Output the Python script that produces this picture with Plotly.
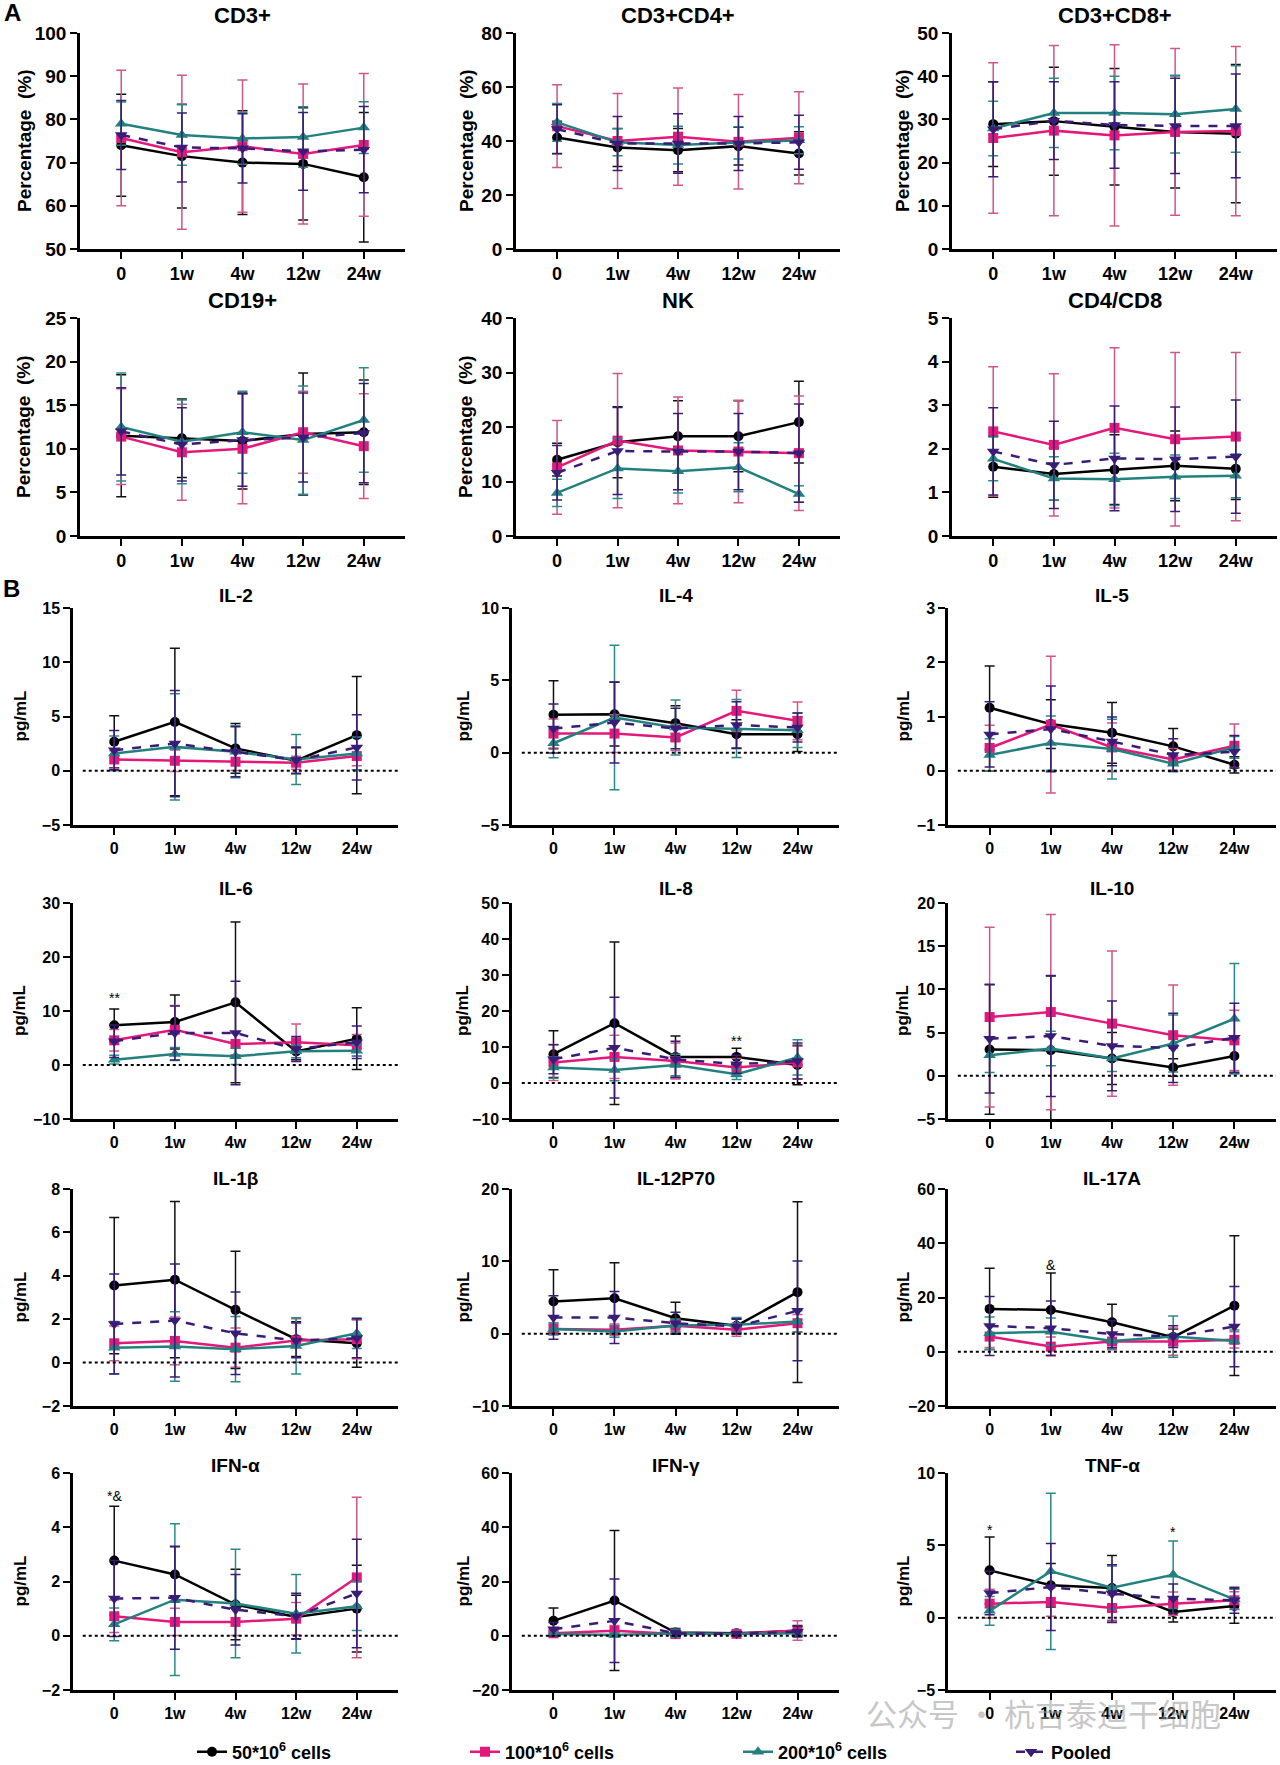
import plotly.graph_objects as go

# ---------------- data ----------------
times = ["0", "1w", "4w", "12w", "24w"]
series_names = ["50*10<sup>6</sup> cells", "100*10<sup>6</sup> cells",
                "200*10<sup>6</sup> cells", "Pooled"]

# order inside each panel list: [50, 100, 200, Pooled]
cd3_mean = [[74.0, 71.5, 70.0, 69.7, 66.6], [75.7, 72.4, 73.8, 72.0, 74.1],
            [79.0, 76.4, 75.6, 75.9, 78.1], [76.4, 73.5, 73.3, 72.6, 73.0]]
cd3_sd = [[11.8, 12.0, 12.0, 13.0, 15.0], [15.7, 17.8, 15.3, 16.2, 16.5],
          [5.0, 7.0, 6.0, 7.0, 6.0], [8.0, 8.0, 8.0, 9.0, 10.0]]

cd4_mean = [[41.3, 37.6, 36.6, 38.1, 35.4], [45.5, 40.0, 41.6, 39.7, 41.2],
            [46.9, 39.5, 38.5, 39.3, 40.3], [44.4, 39.1, 39.1, 39.1, 39.5]]
cd4_sd = [[6.0, 7.0, 8.0, 7.0, 8.0], [15.3, 17.6, 18.0, 17.5, 17.0],
          [7.0, 5.0, 7.0, 6.0, 5.0], [9.0, 10.0, 11.0, 10.0, 10.0]]

cd8_mean = [[28.9, 29.6, 28.3, 27.1, 26.7], [25.7, 27.4, 26.3, 27.1, 27.3],
            [27.9, 31.5, 31.5, 31.2, 32.4], [27.7, 29.7, 28.7, 28.5, 28.5]]
cd8_sd = [[9.8, 12.5, 13.5, 13.0, 16.0], [17.4, 19.7, 21.0, 19.3, 19.6],
          [6.3, 8.0, 8.5, 9.0, 10.0], [11.0, 9.0, 10.0, 11.0, 12.0]]

cd19_mean = [[11.5, 11.2, 10.9, 11.7, 11.9], [11.4, 9.6, 10.0, 11.9, 10.3],
             [12.5, 10.8, 11.9, 11.0, 13.3], [12.0, 10.5, 11.0, 11.3, 11.8]]
cd19_sd = [[7.0, 4.5, 5.5, 7.0, 6.0], [5.5, 5.5, 6.3, 4.7, 6.0],
           [6.2, 4.8, 4.7, 6.2, 6.0], [5.0, 4.2, 5.3, 5.1, 5.7]]

nk_mean = [[14.0, 17.2, 18.3, 18.3, 20.9], [12.6, 17.5, 15.7, 15.5, 15.2],
           [7.9, 12.4, 11.9, 12.6, 7.7], [11.6, 15.6, 15.5, 15.5, 15.2]]
nk_sd = [[3.0, 6.5, 6.5, 6.5, 7.5], [8.6, 12.3, 9.8, 9.4, 10.5],
         [2.5, 5.5, 4.0, 4.5, 1.5], [5.0, 8.0, 7.0, 7.0, 9.0]]

ratio_mean = [[1.59, 1.42, 1.52, 1.61, 1.54], [2.40, 2.09, 2.48, 2.22, 2.28],
              [1.77, 1.32, 1.30, 1.36, 1.38], [1.94, 1.63, 1.78, 1.76, 1.82]]
ratio_sd = [[0.7, 0.6, 0.8, 0.8, 0.7], [1.48, 1.63, 1.84, 1.99, 1.93],
            [0.5, 0.5, 0.6, 0.5, 0.5], [1.0, 1.0, 1.2, 1.2, 1.3]]

il2_mean = [[2.67, 4.5, 2.06, 0.92, 3.28], [1.04, 0.92, 0.83, 0.74, 1.35],
            [1.6, 2.2, 1.75, 1.04, 1.6], [1.9, 2.5, 1.75, 0.98, 2.15]]
il2_sd = [[2.4, 6.8, 2.3, 1.2, 5.4], [0.8, 1.0, 0.8, 0.6, 0.9],
          [1.6, 4.9, 2.4, 2.3, 1.5], [1.8, 4.9, 2.3, 1.2, 3.0]]

il4_mean = [[2.62, 2.66, 2.04, 1.28, 1.28], [1.32, 1.32, 1.05, 2.89, 2.2],
            [0.65, 2.43, 1.74, 1.67, 1.55], [1.67, 2.08, 1.67, 1.92, 1.74]]
il4_sd = [[2.35, 2.2, 1.2, 1.0, 1.2], [1.0, 1.3, 0.9, 1.43, 1.3],
          [1.0, 5.0, 1.9, 2.0, 1.2], [1.7, 2.8, 1.4, 1.6, 1.0]]

il5_mean = [[1.16, 0.86, 0.70, 0.45, 0.11], [0.42, 0.85, 0.43, 0.21, 0.46],
            [0.29, 0.51, 0.40, 0.13, 0.43], [0.67, 0.77, 0.54, 0.29, 0.35]]
il5_sd = [[0.77, 0.45, 0.56, 0.33, 0.15], [0.42, 1.26, 0.45, 0.2, 0.4],
          [0.3, 0.5, 0.55, 0.15, 0.2], [0.6, 0.79, 0.45, 0.3, 0.3]]

il6_mean = [[7.35, 7.96, 11.6, 2.5, 4.88], [4.57, 6.54, 3.9, 4.2, 3.64],
            [0.99, 2.04, 1.6, 2.53, 2.65], [4.4, 5.93, 5.93, 2.96, 4.2]]
il6_sd = [[3.0, 5.0, 14.9, 1.5, 5.7], [2.0, 4.5, 2.0, 3.4, 2.0],
          [0.8, 1.2, 1.5, 1.2, 1.0], [3.0, 5.0, 9.6, 2.3, 3.0]]

il8_mean = [[8.0, 16.6, 7.25, 7.25, 5.0], [5.7, 7.25, 6.1, 4.3, 5.7],
            [4.3, 3.6, 5.0, 2.45, 7.1], [6.6, 9.8, 6.6, 5.2, 6.1]]
il8_sd = [[6.5, 22.6, 5.8, 2.4, 5.5], [5.0, 6.0, 5.0, 2.5, 4.5],
          [3.0, 3.0, 3.0, 1.5, 4.9], [4.0, 14.0, 5.0, 2.5, 5.0]]

il10_mean = [[3.04, 2.96, 2.0, 0.96, 2.3], [6.8, 7.38, 6.04, 4.7, 4.1],
             [2.38, 3.15, 2.0, 3.73, 6.6], [4.3, 4.6, 3.46, 3.23, 4.4]]
il10_sd = [[7.5, 8.6, 3.0, 1.0, 2.0], [10.4, 11.3, 8.4, 5.8, 3.5],
           [2.0, 2.0, 1.5, 3.3, 6.4], [6.3, 7.0, 5.2, 4.0, 4.0]]

il1b_mean = [[3.55, 3.82, 2.43, 1.08, 0.89], [0.89, 1.0, 0.69, 1.02, 1.08],
             [0.69, 0.74, 0.62, 0.77, 1.35], [1.78, 1.94, 1.35, 1.02, 1.12]]
il1b_sd = [[3.14, 3.6, 2.7, 0.8, 1.1], [0.8, 1.1, 0.9, 1.0, 0.9],
           [1.2, 1.6, 1.5, 1.3, 0.7], [2.3, 2.6, 1.9, 0.8, 0.9]]

il12_mean = [[4.45, 4.9, 2.14, 1.08, 5.74], [0.66, 0.53, 1.08, 0.53, 1.45],
             [0.66, 0.3, 1.13, 1.22, 1.68], [2.23, 2.23, 1.45, 0.99, 3.16]]
il12_sd = [[4.4, 4.9, 2.2, 1.0, 12.5], [0.8, 0.8, 0.8, 0.9, 1.2],
           [0.8, 0.8, 0.9, 1.0, 1.5], [3.0, 3.6, 1.5, 1.0, 6.9]]

il17_mean = [[15.8, 15.4, 10.9, 5.4, 17.0], [5.6, 1.9, 3.75, 3.75, 4.4],
             [6.8, 7.4, 4.0, 5.6, 4.0], [9.5, 8.7, 6.5, 5.6, 9.3]]
il17_sd = [[15.0, 13.6, 6.6, 3.0, 25.8], [4.0, 3.5, 3.0, 5.0, 3.0],
           [6.0, 5.0, 3.0, 7.6, 4.0], [10.9, 10.0, 5.0, 4.0, 14.8]]

ifna_mean = [[2.77, 2.26, 1.15, 0.69, 1.0], [0.72, 0.51, 0.51, 0.63, 2.15],
             [0.42, 1.33, 1.19, 0.81, 1.09], [1.37, 1.4, 0.96, 0.72, 1.56]]
ifna_sd = [[2.0, 1.02, 1.3, 0.8, 1.6], [0.6, 0.5, 0.5, 0.6, 2.96],
           [0.6, 2.8, 2.0, 1.45, 0.9], [1.4, 1.9, 1.3, 0.85, 2.0]]

ifng_mean = [[5.5, 13.0, 1.2, 0.9, 1.8], [0.9, 1.8, 0.6, 0.7, 1.9],
             [0.6, 0.3, 0.9, 0.6, 0.9], [2.4, 5.5, 0.9, 0.7, 1.5]]
ifng_sd = [[4.7, 25.8, 1.5, 0.8, 2.0], [1.0, 2.0, 0.5, 0.5, 3.6],
           [0.8, 0.8, 1.5, 0.5, 1.0], [2.5, 15.4, 1.0, 0.6, 2.0]]

tnf_mean = [[3.27, 2.24, 2.05, 0.4, 0.81], [0.97, 1.09, 0.67, 0.97, 1.2],
            [0.47, 3.2, 2.07, 2.97, 1.27], [1.7, 2.12, 1.66, 1.32, 1.2]]
tnf_sd = [[2.3, 1.5, 2.25, 0.7, 1.2], [1.0, 1.0, 0.9, 0.8, 0.6],
          [1.0, 5.4, 1.5, 2.33, 0.7], [1.5, 3.0, 2.0, 1.0, 0.9]]

# significance marks: (panel title, time index, y value, text)
sig_panels = ["IL-6", "IL-8", "IL-17A", "IFN-α", "TNF-α", "TNF-α"]
sig_time = [0, 3, 1, 0, 0, 3]
sig_y = [12.5, 11.7, 32.1, 5.14, 6.07, 5.9]
sig_text = ["**", "**", "&", "*&", "*", "*"]

# panels: title, mean, sd, y range, dtick, y label
panels = [
    ("CD3+", cd3_mean, cd3_sd, (50, 100), 10, "Percentage  (%)"),
    ("CD3+CD4+", cd4_mean, cd4_sd, (0, 80), 20, "Percentage  (%)"),
    ("CD3+CD8+", cd8_mean, cd8_sd, (0, 50), 10, "Percentage  (%)"),
    ("CD19+", cd19_mean, cd19_sd, (0, 25), 5, "Percentage  (%)"),
    ("NK", nk_mean, nk_sd, (0, 40), 10, "Percentage  (%)"),
    ("CD4/CD8", ratio_mean, ratio_sd, (0, 5), 1, ""),
    ("IL-2", il2_mean, il2_sd, (-5, 15), 5, "pg/mL"),
    ("IL-4", il4_mean, il4_sd, (-5, 10), 5, "pg/mL"),
    ("IL-5", il5_mean, il5_sd, (-1, 3), 1, "pg/mL"),
    ("IL-6", il6_mean, il6_sd, (-10, 30), 10, "pg/mL"),
    ("IL-8", il8_mean, il8_sd, (-10, 50), 10, "pg/mL"),
    ("IL-10", il10_mean, il10_sd, (-5, 20), 5, "pg/mL"),
    ("IL-1β", il1b_mean, il1b_sd, (-2, 8), 2, "pg/mL"),
    ("IL-12P70", il12_mean, il12_sd, (-10, 20), 10, "pg/mL"),
    ("IL-17A", il17_mean, il17_sd, (-20, 60), 20, "pg/mL"),
    ("IFN-α", ifna_mean, ifna_sd, (-2, 6), 2, "pg/mL"),
    ("IFN-γ", ifng_mean, ifng_sd, (-20, 60), 20, "pg/mL"),
    ("TNF-α", tnf_mean, tnf_sd, (-5, 10), 5, "pg/mL"),
]

# ---------------- styling ----------------
W, H = 1280, 1765
FONT = "Liberation Sans, Arial, sans-serif"
colors = ["#000000", "#E3187A", "#22817F", "#3A1C78"]
err_colors = ["#111111", "#D0558A", "#2A8A88", "#3A1C78"]
symbols = ["circle", "square", "triangle-up", "triangle-down"]
dashes = ["solid", "solid", "solid", "dash"]

row_y = [(33, 249), (318, 536), (608, 825), (903, 1119), (1189, 1406), (1473, 1690)]
col_x_a = [(80, 405), (516, 840), (952, 1277)]
col_x_b = [(73, 398), (512, 839), (948, 1276)]
title_y = [15, 300, 595, 888, 1178, 1465]
ylab_x_a = [24, 466, 902]
ylab_x_b = [20, 463, 903]
XR = [-0.68, 4.68]

fig = go.Figure()
layout_axes = {}
annotations = []
shapes = []
xs = list(range(len(times)))

for i, (title, means, sds, yr, dt, ylab) in enumerate(panels):
    r, c = divmod(i, 3)
    n = i + 1
    xa = "x" if n == 1 else f"x{n}"
    ya = "y" if n == 1 else f"y{n}"
    is_b = r >= 2
    cx = (col_x_b if is_b else col_x_a)[c]
    ry = row_y[r]
    xdom = [cx[0] / W, cx[1] / W]
    ydom = [1 - ry[1] / H, 1 - ry[0] / H]

    for s in range(4):
        fig.add_trace(go.Scatter(
            x=xs, y=means[s], xaxis=xa, yaxis=ya,
            mode="lines+markers", name=series_names[s],
            showlegend=(i == 0),
            line=dict(color=colors[s], width=2.5, dash=dashes[s]),
            marker=dict(symbol=symbols[s], size=10 if s < 2 else 11, color=colors[s]),
            error_y=dict(type="data", array=sds[s], color=err_colors[s],
                         thickness=1.5, width=5),
        ))

    tick_font_y = dict(family=FONT, size=16 if is_b else 19, color="black", weight="bold")
    tick_font_x = dict(family=FONT, size=16 if is_b else 18, color="black", weight="bold")
    lw = 3 if is_b else 2.5
    layout_axes["xaxis" if n == 1 else f"xaxis{n}"] = dict(
        domain=xdom, anchor=ya, range=XR, tickvals=xs, ticktext=times,
        showline=True, linecolor="black", linewidth=lw, ticks="outside",
        ticklen=7, tickwidth=2, tickcolor="black", showgrid=False,
        zeroline=False, tickfont=tick_font_x, fixedrange=True)
    layout_axes["yaxis" if n == 1 else f"yaxis{n}"] = dict(
        domain=ydom, anchor=xa, range=list(yr), dtick=dt, tick0=yr[0],
        showline=True, linecolor="black", linewidth=2.5, ticks="outside",
        ticklen=7, tickwidth=2, tickcolor="black", showgrid=False,
        zeroline=False, tickfont=tick_font_y, fixedrange=True)

    annotations.append(dict(
        text=title, x=(cx[0] + cx[1]) / 2 / W, y=1 - title_y[r] / H,
        xref="paper", yref="paper", showarrow=False, xanchor="center", yanchor="middle",
        font=dict(family=FONT, size=19 if is_b else 22, color="black", weight="bold")))
    if ylab:
        lx = (ylab_x_b if is_b else ylab_x_a)[c]
        annotations.append(dict(
            text=ylab, x=lx / W, y=1 - (ry[0] + ry[1]) / 2 / H, textangle=-90,
            xref="paper", yref="paper", showarrow=False, xanchor="center", yanchor="middle",
            font=dict(family=FONT, size=17 if is_b else 19, color="black", weight="bold")))
    if is_b:
        shapes.append(dict(type="line", xref=f"{xa} domain", yref=ya,
                           x0=0.03, x1=1.0, y0=0, y1=0,
                           line=dict(color="black", width=2, dash="dot")))

# significance marks
titles = [p[0] for p in panels]
for pt, ti, yv, tx in zip(sig_panels, sig_time, sig_y, sig_text):
    n = titles.index(pt) + 1
    annotations.append(dict(
        text=tx, x=ti, y=yv, xref="x" if n == 1 else f"x{n}",
        yref="y" if n == 1 else f"y{n}", showarrow=False,
        font=dict(family=FONT, size=14, color="black"), yanchor="middle"))

# panel letters
annotations.append(dict(text="A", x=12 / W, y=1 - 13 / H, xref="paper", yref="paper",
                        showarrow=False, xanchor="center", yanchor="middle",
                        font=dict(family=FONT, size=24, color="black", weight="bold")))
annotations.append(dict(text="B", x=11 / W, y=1 - 588 / H, xref="paper", yref="paper",
                        showarrow=False, xanchor="center", yanchor="middle",
                        font=dict(family=FONT, size=24, color="black", weight="bold")))

# watermark
annotations.append(dict(text="公众号 · 杭吉泰迪干细胞", x=1043 / W, y=1 - 1712 / H,
                        xref="paper", yref="paper", showarrow=False,
                        xanchor="center", yanchor="middle", opacity=0.55,
                        font=dict(family="Noto Sans CJK SC", size=31, color="#9a9a9a")))

fig.update_layout(
    width=W, height=H, margin=dict(l=0, r=0, t=0, b=0, autoexpand=False),
    paper_bgcolor="white", plot_bgcolor="white",
    font=dict(family=FONT, color="black"),
    annotations=annotations, shapes=shapes,
    legend=dict(orientation="h", traceorder="normal", x=0.15, y=1 - 1752 / H,
                xanchor="left", yanchor="middle",
                entrywidth=228, entrywidthmode="pixels",
                font=dict(family=FONT, size=18, color="black", weight="bold"),
                bgcolor="rgba(0,0,0,0)"),
    **layout_axes,
)

fig.write_html("out.html")
